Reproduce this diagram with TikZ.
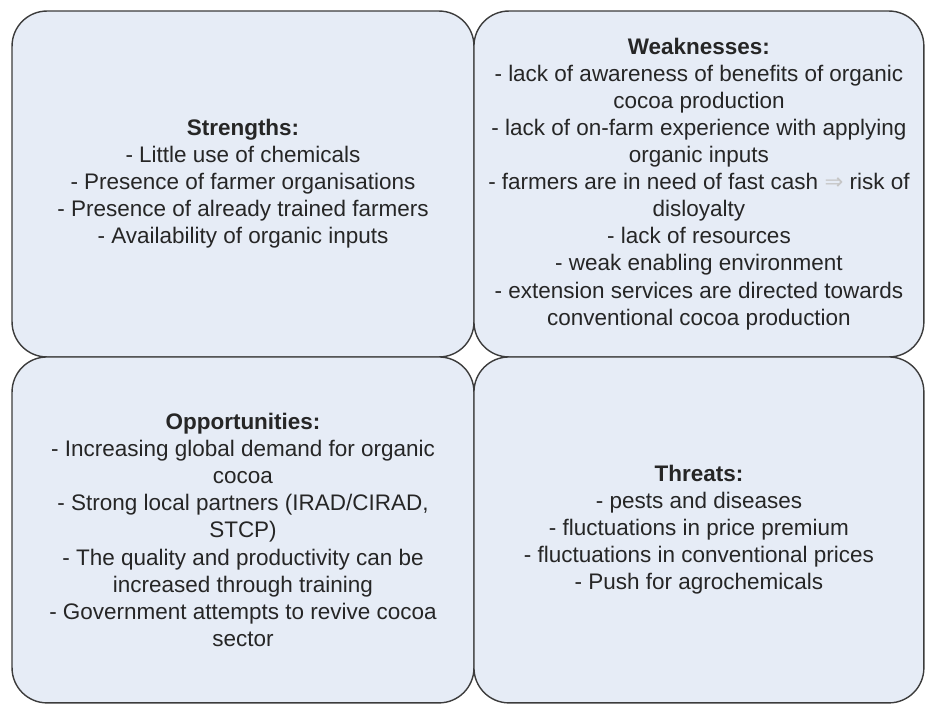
\documentclass[tikz,border=0pt]{standalone}
\usepackage{fontspec}
\setmainfont{Liberation Sans}
\newfontfamily\symfont{DejaVu Sans}
\usepackage{xcolor}
\usepackage{tikz}
\usetikzlibrary{positioning}

\definecolor{boxfill}{RGB}{230,236,246}
\definecolor{boxline}{RGB}{60,60,60}

\tikzset{
  quadbox/.style={draw=boxline, line width=0.8pt, fill=boxfill, rounded corners=0.7cm,
    minimum width=9.24cm, minimum height=6.92cm, inner sep=0pt, outer sep=0pt,
    align=center, font=\fontsize{12.8}{15.4}\selectfont, text=black!85}
}

\begin{document}
\begin{tikzpicture}[x=0.02cm, y=-0.02cm]

\useasboundingbox (0,0) rectangle (926,705);

% Draw the boxes
\node[quadbox] (strengths) at (243,184) {\textbf{Strengths:}\\
- Little use of chemicals\\
- Presence of farmer organisations\\
- Presence of already trained farmers\\
- Availability of organic inputs};

\node[quadbox, minimum width=9.0cm, right=0pt of strengths] (weaknesses) {\textbf{Weaknesses:}\\
- lack of awareness of benefits of organic\\
cocoa production\\
- lack of on-farm experience with applying\\
organic inputs\\
- farmers are in need of fast cash {\symfont\color{gray!45}⇒} risk of\\
disloyalty\\
- lack of resources\\
- weak enabling environment\\
- extension services are directed towards\\
conventional cocoa production};

\node[quadbox, below=0pt of strengths] (opportunities) {\textbf{Opportunities:}\\
- Increasing global demand for organic\\
cocoa\\
- Strong local partners (IRAD/CIRAD,\\
STCP)\\
- The quality and productivity can be\\
increased through training\\
- Government attempts to revive cocoa\\
sector};

\node[quadbox, minimum width=9.0cm, below=0pt of weaknesses] (threats) {\textbf{Threats:}\\
- pests and diseases\\
- fluctuations in price premium\\
- fluctuations in conventional prices\\
- Push for agrochemicals};

\end{tikzpicture}
\end{document}
